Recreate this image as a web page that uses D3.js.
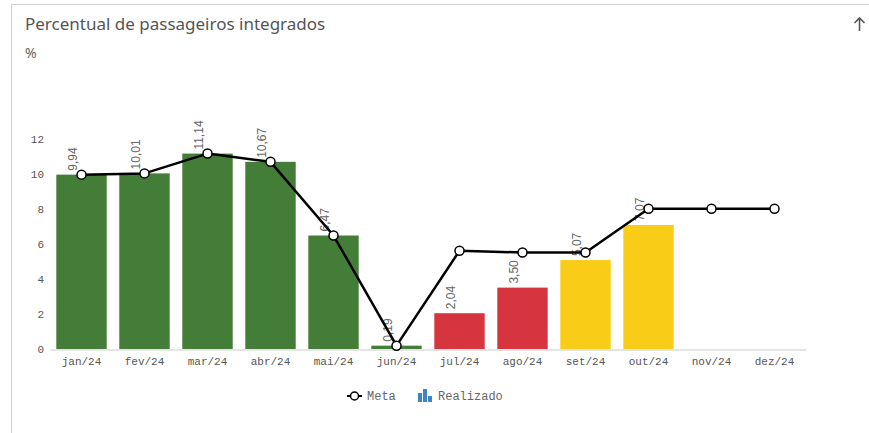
<!DOCTYPE html>
<html>
<head>
<meta charset="utf-8">
<script src="https://cdn.jsdelivr.net/npm/d3@7"></script>
<style>
  body { margin: 0; background: #fff; }
  svg { display: block; }
</style>
</head>
<body>
<div id="chart"></div>
<script>
var months = ["jan/24", "fev/24", "mar/24", "abr/24", "mai/24", "jun/24",
  "jul/24", "ago/24", "set/24", "out/24", "nov/24", "dez/24"];
var realizado = [9.94, 10.01, 11.14, 10.67, 6.47, 0.19, 2.04, 3.50, 5.07, 7.07, null, null];
var meta = [9.94, 10.01, 11.14, 10.67, 6.47, 0.19, 5.6, 5.5, 5.5, 8, 8, 8];
var barColors = ["#447d37", "#447d37", "#447d37", "#447d37", "#447d37", "#447d37",
  "#d6353f", "#d6353f", "#f8cc17", "#f8cc17", "#f8cc17", "#f8cc17"];
var yTicks = [0, 2, 4, 6, 8, 10, 12];

var svgWidth = 869;
var svgHeight = 433;

var svg = d3.select("#chart")
  .append("svg")
  .attr("width", svgWidth)
  .attr("height", svgHeight);

// card border
svg.append("path")
  .attr("d", "M11.5,433 L11.5,4.5 L869,4.5")
  .attr("fill", "none")
  .attr("stroke", "#cfcfcf")
  .attr("stroke-width", 1);

svg.append("text")
  .attr("x", 25)
  .attr("y", 30)
  .attr("font-family", "'Noto Sans', sans-serif")
  .attr("font-size", 17)
  .attr("fill", "#555")
  .text("Percentual de passageiros integrados");

svg.append("text")
  .attr("x", 25)
  .attr("y", 58)
  .attr("font-family", "'Noto Sans', sans-serif")
  .attr("font-size", 14)
  .attr("fill", "#666")
  .text("%");

// up arrow
svg.append("path")
  .attr("d", "M859.5,31 L859.5,18 M854.5,23 L859.5,18 L864.5,23")
  .attr("fill", "none")
  .attr("stroke", "#555")
  .attr("stroke-width", 1.6);

var x = d3.scaleBand()
  .domain(months)
  .range([50, 806])
  .paddingInner(0.2)
  .paddingOuter(0.1);

var y = d3.scaleLinear()
  .domain([0, 12])
  .range([349, 138.5]);

var mono = "'Liberation Mono', 'DejaVu Sans Mono', monospace";

// y axis
var yAxis = svg.append("g")
  .attr("transform", "translate(44,0)")
  .call(d3.axisLeft(y).tickValues(yTicks).tickSize(0).tickPadding(0));
yAxis.select(".domain").remove();
yAxis.selectAll("text")
  .attr("font-family", mono)
  .attr("font-size", 11)
  .attr("fill", "#555");

// x axis
var xAxis = svg.append("g")
  .attr("transform", "translate(0,349.5)")
  .call(d3.axisBottom(x).tickSize(0).tickPadding(8));
xAxis.select(".domain")
  .attr("stroke", "#dcdcdc")
  .attr("stroke-width", 1.5);
xAxis.selectAll("text")
  .attr("font-family", mono)
  .attr("font-size", 11)
  .attr("fill", "#555");

var data = months.map(function(m, i) {
  return { month: m, real: realizado[i], meta: meta[i], color: barColors[i] };
});

// bars
svg.append("g")
  .selectAll("rect")
  .data(data.filter(d => d.real !== null))
  .enter()
  .append("rect")
  .attr("x", d => x(d.month))
  .attr("y", d => y(d.real))
  .attr("width", x.bandwidth())
  .attr("height", d => y(0) - y(d.real))
  .attr("fill", d => d.color);

// value labels
svg.append("g")
  .selectAll("text")
  .data(data.filter(d => d.real !== null))
  .enter()
  .append("text")
  .attr("transform", d => `translate(${x(d.month) + x.bandwidth() / 2 - 4.5}, ${y(d.real) - 4}) rotate(-90)`)
  .attr("font-family", "'Liberation Sans', Arial, sans-serif")
  .attr("font-size", 12)
  .attr("fill", "#666")
  .text(d => d.real.toFixed(2).replace(".", ","));

// meta line
var line = d3.line()
  .x(d => x(d.month) + x.bandwidth() / 2)
  .y(d => y(d.meta));

svg.append("path")
  .datum(data)
  .attr("d", line)
  .attr("fill", "none")
  .attr("stroke", "#000")
  .attr("stroke-width", 2.5)
  .attr("stroke-linejoin", "round");

svg.append("g")
  .selectAll("circle")
  .data(data)
  .enter()
  .append("circle")
  .attr("cx", d => x(d.month) + x.bandwidth() / 2)
  .attr("cy", d => y(d.meta))
  .attr("r", 4.5)
  .attr("fill", "#fff")
  .attr("stroke", "#000")
  .attr("stroke-width", 1.5);

// legend
var legend = svg.append("g").attr("transform", "translate(0,396)");
legend.append("line")
  .attr("x1", 347).attr("x2", 362)
  .attr("y1", 0).attr("y2", 0)
  .attr("stroke", "#000").attr("stroke-width", 2);
legend.append("circle")
  .attr("cx", 354.5).attr("cy", 0).attr("r", 4)
  .attr("fill", "#fff").attr("stroke", "#000").attr("stroke-width", 1.5);
legend.append("text")
  .attr("x", 367).attr("y", 4)
  .attr("font-family", mono).attr("font-size", 12).attr("fill", "#666")
  .text("Meta");

var legendBars = [[418, 9], [423, 13], [428, 6]];
legend.selectAll("rect.lb")
  .data(legendBars)
  .enter()
  .append("rect")
  .attr("class", "lb")
  .attr("x", d => d[0])
  .attr("y", d => 6 - d[1])
  .attr("width", 4)
  .attr("height", d => d[1])
  .attr("fill", "#3a86c8");
legend.append("text")
  .attr("x", 438).attr("y", 4)
  .attr("font-family", mono).attr("font-size", 12).attr("fill", "#666")
  .text("Realizado");
</script>
</body>
</html>
